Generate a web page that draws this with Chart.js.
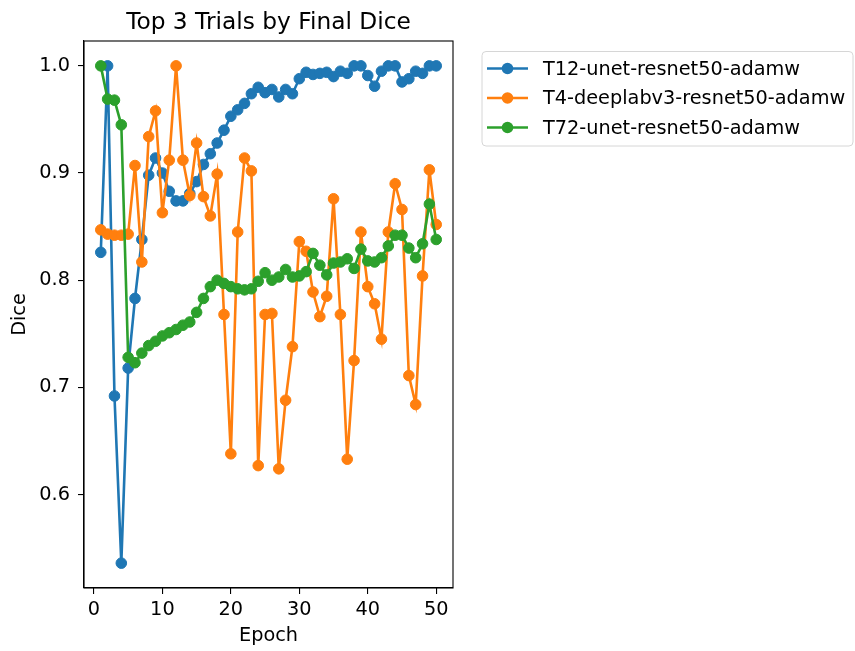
<!DOCTYPE html>
<html>
<head>
<meta charset="utf-8">
<script src="https://cdn.jsdelivr.net/npm/chart.js@4/dist/chart.umd.min.js"></script>
<style>
html,body{margin:0;padding:0;background:#fff;}
#wrap{width:855px;height:651px;position:relative;}
</style>
</head>
<body>
<div id="wrap"><canvas id="c" width="855" height="651"></canvas></div>
<script>
const chartTitle = "Top 3 Trials by Final Dice";
const xTitle = "Epoch";
const yTitle = "Dice";
const seriesNames = ["T12-unet-resnet50-adamw", "T4-deeplabv3-resnet50-adamw", "T72-unet-resnet50-adamw"];
const seriesColors = ["#1f77b4", "#ff7f0e", "#2ca02c"];
const epochs = [1,2,3,4,5,6,7,8,9,10,11,12,13,14,15,16,17,18,19,20,21,22,23,24,25,26,27,28,29,30,31,32,33,34,35,36,37,38,39,40,41,42,43,44,45,46,47,48,49,50];
const t12 = [0.826,1.000,0.692,0.536,0.718,0.783,0.838,0.898,0.914,0.900,0.883,0.874,0.874,0.881,0.892,0.908,0.918,0.928,0.940,0.953,0.959,0.965,0.974,0.980,0.975,0.978,0.971,0.978,0.974,0.988,0.994,0.992,0.993,0.994,0.990,0.995,0.993,1.000,1.000,0.991,0.981,0.995,1.000,1.000,0.985,0.988,0.995,0.993,1.000,1.000];
const t4 = [0.847,0.843,0.842,0.842,0.843,0.907,0.817,0.934,0.958,0.863,0.912,1.000,0.912,0.879,0.928,0.878,0.860,0.899,0.768,0.638,0.845,0.914,0.902,0.627,0.768,0.769,0.624,0.688,0.738,0.836,0.827,0.789,0.766,0.785,0.876,0.768,0.633,0.725,0.845,0.794,0.778,0.745,0.845,0.890,0.866,0.711,0.684,0.804,0.903,0.852];
const t72 = [1.000,0.969,0.968,0.945,0.728,0.723,0.732,0.739,0.743,0.748,0.751,0.754,0.758,0.761,0.770,0.783,0.794,0.800,0.797,0.794,0.792,0.791,0.792,0.799,0.807,0.800,0.803,0.810,0.803,0.804,0.808,0.825,0.814,0.805,0.816,0.817,0.820,0.811,0.829,0.818,0.817,0.821,0.832,0.842,0.842,0.830,0.821,0.834,0.871,0.838];
const xTicks = [0,10,20,30,40,50];
const yTicks = [0.6,0.7,0.8,0.9,1.0];
const xRange = [-1.45, 52.45];
const yRange = [0.5128, 1.0232];

const seriesValues = [t12, t4, t72];
const FONT = "'DejaVu Sans', sans-serif";
const LABEL_SIZE = 19.3;

const datasets = seriesValues.map((vals, i) => ({
  label: seriesNames[i],
  data: vals.map((v, j) => ({x: epochs[j], y: v})),
  borderColor: seriesColors[i],
  backgroundColor: seriesColors[i],
  pointBackgroundColor: seriesColors[i],
  pointBorderColor: seriesColors[i],
  borderWidth: 2.6,
  pointRadius: 5.3,
  pointBorderWidth: 1,
  tension: 0,
  order: seriesValues.length - i
}));

const overlay = {
  id: 'overlay',
  afterDraw(chart) {
    const ctx = chart.ctx;
    const a = chart.chartArea;
    ctx.save();
    ctx.strokeStyle = '#000';
    ctx.lineWidth = 1.1;
    ctx.strokeRect(a.left, a.top, a.right - a.left, a.bottom - a.top);
    ctx.fillStyle = '#000';
    ctx.font = "23.3px " + FONT;
    ctx.textAlign = 'center';
    ctx.textBaseline = 'alphabetic';
    ctx.fillText(chartTitle, (a.left + a.right) / 2, 28.5);
    const bx = 482, by = 51.5, bw = 371, bh = 94.5, r = 4;
    ctx.beginPath();
    ctx.moveTo(bx + r, by);
    ctx.arcTo(bx + bw, by, bx + bw, by + bh, r);
    ctx.arcTo(bx + bw, by + bh, bx, by + bh, r);
    ctx.arcTo(bx, by + bh, bx, by, r);
    ctx.arcTo(bx, by, bx + bw, by, r);
    ctx.closePath();
    ctx.fillStyle = 'rgba(255,255,255,0.8)';
    ctx.fill();
    ctx.strokeStyle = '#d6d6d6';
    ctx.lineWidth = 1;
    ctx.stroke();
    ctx.font = LABEL_SIZE + "px " + FONT;
    ctx.textAlign = 'left';
    ctx.textBaseline = 'middle';
    seriesNames.forEach((name, i) => {
      const cy = 68.5 + i * 29.5;
      ctx.strokeStyle = seriesColors[i];
      ctx.lineWidth = 2.6;
      ctx.beginPath();
      ctx.moveTo(487, cy);
      ctx.lineTo(528, cy);
      ctx.stroke();
      ctx.fillStyle = seriesColors[i];
      ctx.beginPath();
      ctx.arc(507.5, cy, 5.8, 0, Math.PI * 2);
      ctx.fill();
      ctx.fillStyle = '#000';
      ctx.fillText(name, 543, cy + 1);
    });
    ctx.restore();
  }
};

new Chart(document.getElementById('c'), {
  type: 'line',
  data: { datasets },
  plugins: [overlay],
  options: {
    responsive: false,
    devicePixelRatio: 1,
    animation: false,
    events: [],
    layout: { padding: { left: 0, top: 41, right: 402, bottom: 0 } },
    plugins: { legend: { display: false }, tooltip: { enabled: false }, title: { display: false } },
    scales: {
      x: {
        type: 'linear',
        min: xRange[0], max: xRange[1],
        afterBuildTicks: s => { s.ticks = xTicks.map(v => ({value: v})); },
        afterFit: s => { s.height = 63; },
        grid: { display: true, drawOnChartArea: false, drawTicks: true, tickLength: 6, color: '#000', lineWidth: 1.1 },
        border: { display: true, color: '#000', width: 1.1 },
        ticks: { color: '#000', font: { family: FONT, size: LABEL_SIZE }, padding: 4, maxRotation: 0, autoSkip: false,
                 callback: v => String(v) },
        title: { display: true, text: xTitle, color: '#000', font: { family: FONT, size: LABEL_SIZE }, padding: { top: 0, bottom: 3 } }
      },
      y: {
        type: 'linear',
        min: yRange[0], max: yRange[1],
        afterBuildTicks: s => { s.ticks = yTicks.map(v => ({value: v})); },
        afterFit: s => { s.width = 84; },
        grid: { display: true, drawOnChartArea: false, drawTicks: true, tickLength: 6, color: '#000', lineWidth: 1.1 },
        border: { display: true, color: '#000', width: 1.1 },
        ticks: { color: '#000', font: { family: FONT, size: LABEL_SIZE }, padding: 8, autoSkip: false,
                 callback: v => Number(v).toFixed(1) },
        title: { display: true, text: yTitle, color: '#000', font: { family: FONT, size: LABEL_SIZE }, padding: { top: 8, bottom: 0 } }
      }
    }
  }
});
</script>
</body>
</html>
